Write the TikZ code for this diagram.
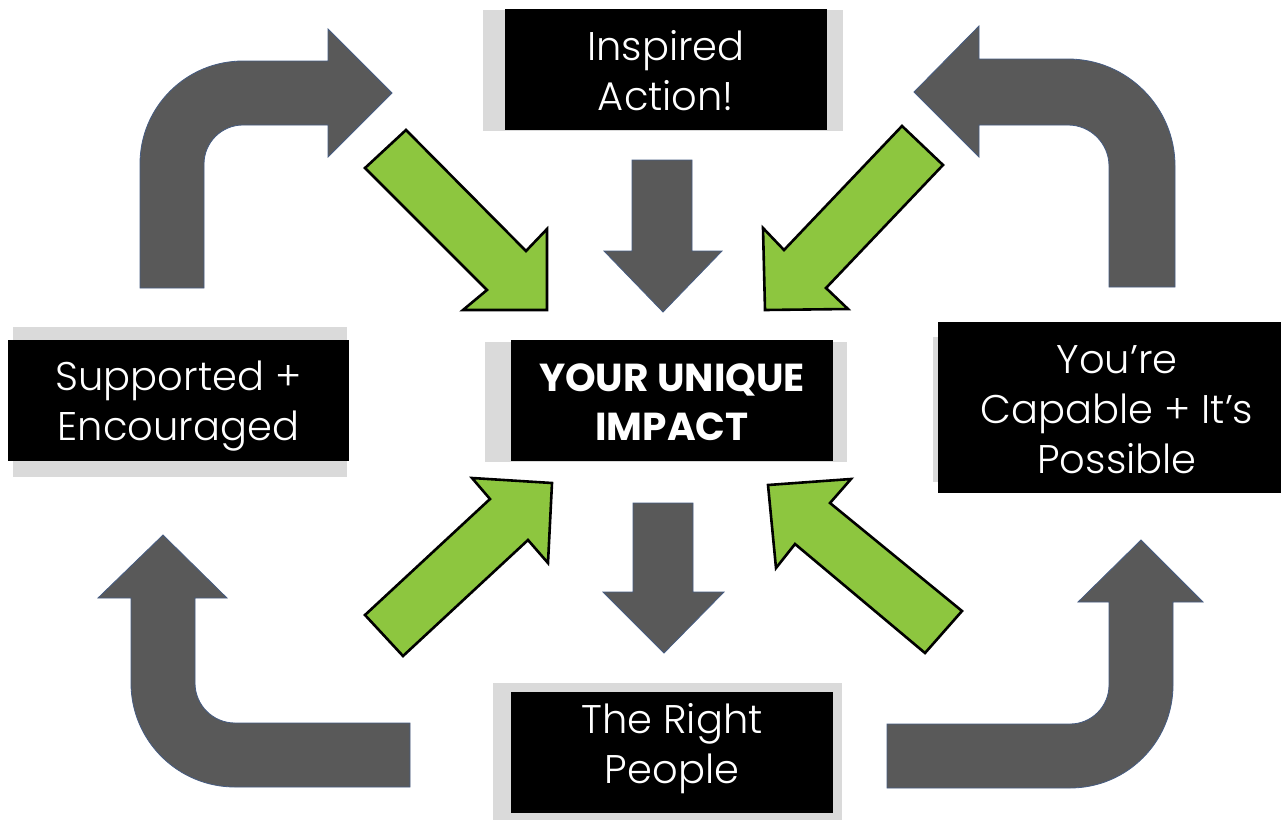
\documentclass[tikz,border=0pt]{standalone}
\usepackage{fontspec}
\setmainfont{Poppins}[UprightFont=* Light, BoldFont=* Bold]
\definecolor{arrowgrey}{RGB}{89,89,89}
\definecolor{edgeblue}{RGB}{70,92,130}
\definecolor{leafgreen}{RGB}{141,198,63}
\definecolor{shadowgrey}{RGB}{218,218,218}
\begin{document}
\begin{tikzpicture}[x=1pt,y=-1pt,
  box/.style={fill=black,text=white,inner sep=0pt,align=center,text depth=10pt,font=\fontsize{40}{50}\selectfont},
  boldbox/.style={box,font=\fontsize{39}{49}\selectfont\bfseries},
  shadowrect/.style={fill=shadowgrey},
  bentarrow/.style={fill=arrowgrey,draw=edgeblue,line width=0.8pt,line join=miter},
  pusharrow/.style={fill=leafgreen,draw=black,line width=2.6pt,line join=miter}]
\useasboundingbox (0,0) rectangle (1281,822);
\fill[white] (0,0) rectangle (1281,822);
% shadows
\fill[shadowrect] (483,10) rectangle (843,131);
\fill[shadowrect] (485,342) rectangle (847,462);
\fill[shadowrect] (13,327) rectangle (347,477);
\fill[shadowrect] (933,337) rectangle (1281,482);
\fill[shadowrect] (493,683) rectangle (842,820);
% boxes
\node[box,text height=91pt,minimum width=322pt,minimum height=121pt] (top) at (666,69.5) {Inspired\\Action!};
\node[boldbox,text height=89pt,minimum width=322pt,minimum height=121pt] (center) at (672,400.5) {YOUR UNIQUE\\IMPACT};
\node[box,text height=89pt,minimum width=341pt,minimum height=121pt] (left) at (178.5,400.5) {Supported +\\Encouraged};
\node[box,text height=141pt,minimum width=343pt,minimum height=171pt] (right) at (1109.5,407.5) {\hspace*{15pt}You’re\\\hspace*{15pt}Capable + It’s\\\hspace*{15pt}Possible};
\node[box,text height=71pt,minimum width=322pt,minimum height=121pt] (bottom) at (672,752.5) {The Right\\People};
% grey bent arrows
\draw[bentarrow] (140,288) -- (140,164) .. controls (140,107) and (186,61) .. (243,61) -- (328,61) -- (328,29) -- (392,93) -- (328,157) -- (328,125) -- (243,125) .. controls (221.5,125) and (204,142.5) .. (204,164) -- (204,288) -- cycle;
\draw[bentarrow] (1175,287) -- (1175,166) .. controls (1175,107) and (1127,59) .. (1068,59) -- (979,59) -- (979,26) -- (914,92) -- (979,157) -- (979,125) -- (1068,125) .. controls (1090.6,125) and (1109,143.4) .. (1109,166) -- (1109,287) -- cycle;
\draw[bentarrow] (410,723) -- (235,723) .. controls (212.9,723) and (195,705.1) .. (195,683) -- (195,598) -- (227,598) -- (163,535) -- (98,598) -- (131,598) -- (131,683) .. controls (131,740.4) and (177.6,787) .. (235,787) -- (410,787) -- cycle;
\draw[bentarrow] (887,724) -- (1070,724) .. controls (1091.5,724) and (1109,706.5) .. (1109,685) -- (1109,602) -- (1078,602) -- (1141,540) -- (1203,602) -- (1173,602) -- (1173,685) .. controls (1173,741.9) and (1126.9,788) .. (1070,788) -- (887,788) -- cycle;
% grey down arrows
\draw[bentarrow] (632,160) -- (692,160) -- (692,251) -- (722,251) -- (663,312) -- (604,251) -- (632,251) -- cycle;
\draw[bentarrow] (633,503) -- (693,503) -- (693,592) -- (724,592) -- (664,653) -- (603,592) -- (633,592) -- cycle;
% green arrows
\draw[pusharrow] (365,168) -- (406,130) -- (526,251) -- (547,229) -- (547,310) -- (463,310) -- (487,290) -- cycle;
\draw[pusharrow] (902,126) -- (784,250) -- (763,228) -- (765,310) -- (848,309) -- (826,288) -- (943,165) -- cycle;
\draw[pusharrow] (365,615) -- (490,499) -- (472,478) -- (552,483) -- (548,563) -- (528,540) -- (403,656) -- cycle;
\draw[pusharrow] (768,485) -- (851,479) -- (830,503) -- (962,611) -- (925,653) -- (795,544) -- (776,568) -- cycle;
\end{tikzpicture}
\end{document}
